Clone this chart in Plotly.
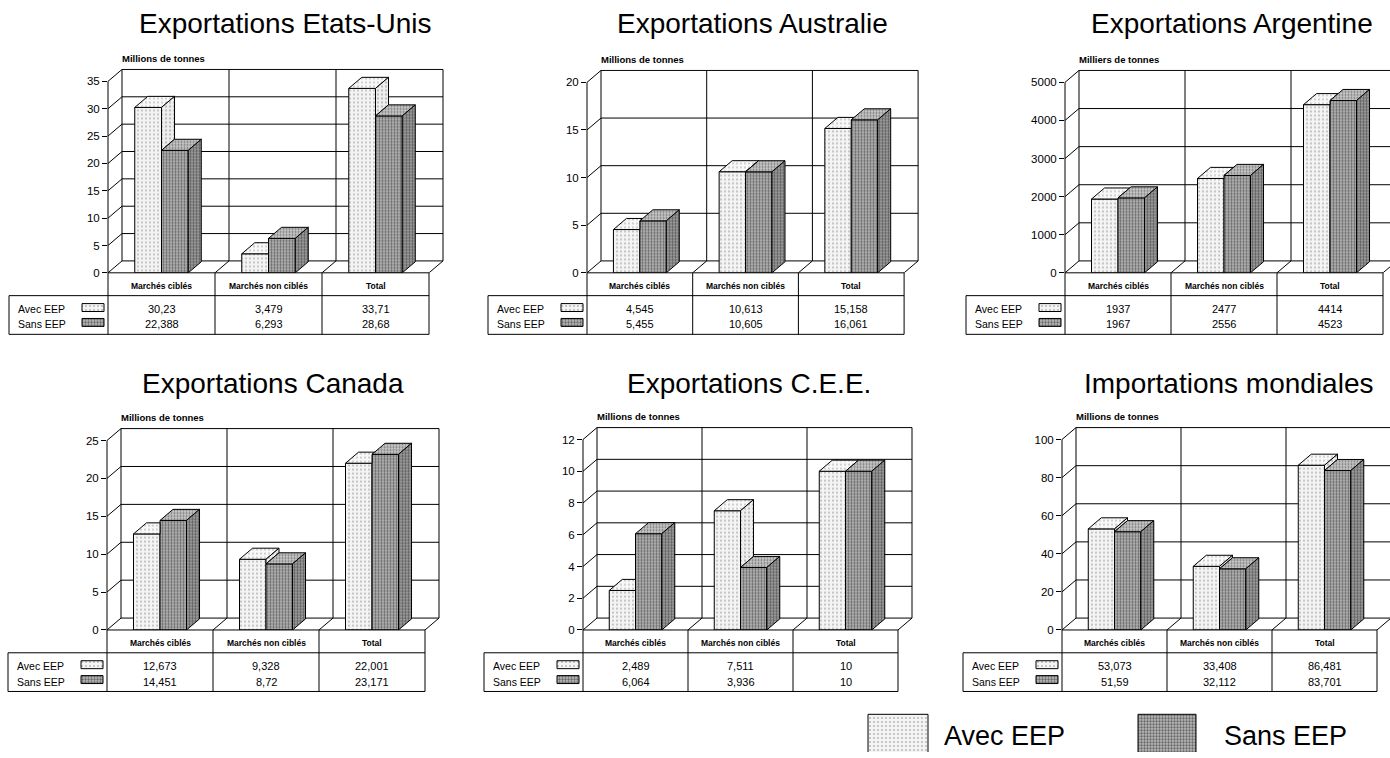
import plotly.graph_objects as go

W, H = 1390, 758
FONT = "Liberation Sans, Arial, Helvetica, sans-serif"

# ---- data -------------------------------------------------------------
categories = ["Marchés ciblés", "Marchés non ciblés", "Total"]
series = ["Avec EEP", "Sans EEP"]

titles = ["Exportations Etats-Unis", "Exportations Australie", "Exportations Argentine",
          "Exportations Canada", "Exportations C.E.E.", "Importations mondiales"]
units = ["Millions de tonnes", "Millions de tonnes", "Milliers de tonnes",
         "Millions de tonnes", "Millions de tonnes", "Millions de tonnes"]

avec_us = [30.23, 3.479, 33.71]
sans_us = [22.388, 6.293, 28.68]
avec_aus = [4.545, 10.613, 15.158]
sans_aus = [5.455, 10.605, 16.061]
avec_arg = [1937, 2477, 4414]
sans_arg = [1967, 2556, 4523]
avec_can = [12.673, 9.328, 22.001]
sans_can = [14.451, 8.72, 23.171]
avec_cee = [2.489, 7.511, 10]
sans_cee = [6.064, 3.936, 10]
avec_imp = [53.073, 33.408, 86.481]
sans_imp = [51.59, 32.112, 83.701]

avec_values = [avec_us, avec_aus, avec_arg, avec_can, avec_cee, avec_imp]
sans_values = [sans_us, sans_aus, sans_arg, sans_can, sans_cee, sans_imp]

y_max = [35, 20, 5000, 25, 12, 100]
y_step = [5, 5, 1000, 5, 2, 20]

# ---- layout of the six panels (pixels) --------------------------------
# x0: front-left edge, cw: column width, base: y of 0, top: y of last tick
frames = [
    dict(x0=108, cw=107.0, base=275, top=82, tx=285, ty=24),
    dict(x0=587, cw=105.7, base=275, top=83, tx=752, ty=24),
    dict(x0=1065, cw=106.0, base=275, top=83, tx=1232, ty=24),
    dict(x0=107, cw=106.0, base=635, top=444, tx=273, ty=387),
    dict(x0=583, cw=105.0, base=635, top=443, tx=749, ty=387),
    dict(x0=1062, cw=105.0, base=635, top=443, tx=1228, ty=387),
]
DEPTH_X, DEPTH_Y = 14, 12      # oblique depth of the floor / back wall
BAR_DEPTH = 0.93               # bar depth relative to the floor depth
BAR_W = 0.25                   # bar width in category units

AVEC_FRONT = dict(shape=".", bgcolor="#f4f4f4", fgcolor="#7a7a7a", size=4, solidity=0.2)
AVEC_TOP = dict(shape=".", bgcolor="#f8f8f8", fgcolor="#8a8a8a", size=4, solidity=0.18)
AVEC_SIDE = dict(shape=".", bgcolor="#eeeeee", fgcolor="#707070", size=4, solidity=0.22)
SANS_FRONT = dict(shape=".", bgcolor="#b8b8b8", fgcolor="#161616", size=3, solidity=0.45)
SANS_TOP = dict(shape=".", bgcolor="#cacaca", fgcolor="#262626", size=3, solidity=0.4)
SANS_SIDE = dict(shape=".", bgcolor="#aaaaaa", fgcolor="#0e0e0e", size=3, solidity=0.5)


def fr(v):
    return f"{v:g}".replace(".", ",")


def px(x):
    return x / W


def py(y):
    return 1 - y / H


def poly_xy(polys):
    xs, ys = [], []
    for p in polys:
        for (x, y) in list(p) + [p[0]]:
            xs.append(x)
            ys.append(y)
        xs.append(None)
        ys.append(None)
    return xs, ys


fig = go.Figure()
shapes, annotations, axes = [], [], {}
LINE = dict(color="black", width=1)


def pline(x1, y1, x2, y2):
    shapes.append(dict(type="line", xref="paper", yref="paper",
                       x0=px(x1), y0=py(y1), x1=px(x2), y1=py(y2), line=LINE))


def text(x, y, s, size, anchor="center", bold=False):
    annotations.append(dict(x=px(x), y=py(y), xref="paper", yref="paper",
                            text=f"<b>{s}</b>" if bold else s,
                            showarrow=False, xanchor=anchor, yanchor="middle",
                            font=dict(family=FONT, size=size, color="black")))


for i in range(6):
    k = i + 1
    sfx = "" if k == 1 else str(k)
    xref, yref = "x" + sfx, "y" + sfx
    f = frames[i]
    x0, cw, b0, bt = f["x0"], f["cw"], f["base"], f["top"]
    ymax, step = y_max[i], y_step[i]
    avec, sans = avec_values[i], sans_values[i]
    ncat = len(categories)

    ppu = (b0 - bt) / ymax
    ddx = DEPTH_X / cw
    ddy = DEPTH_Y / ppu
    right_px = min(W, x0 + ncat * cw + DEPTH_X + 1)
    top_px = bt - DEPTH_Y - 1
    ticks = list(range(0, ymax + 1, step))

    axes["xaxis" + sfx] = dict(domain=[px(x0), px(right_px)],
                               range=[-0.5, -0.5 + (right_px - x0) / cw],
                               visible=False, anchor=yref, fixedrange=True)
    axes["yaxis" + sfx] = dict(domain=[py(b0), py(top_px)], range=[0, (b0 - top_px) / ppu],
                               anchor=xref, tickvals=ticks, ticktext=[str(t) for t in ticks],
                               ticks="outside", ticklen=5, tickwidth=1, tickcolor="black",
                               showgrid=False, zeroline=False, showline=False, fixedrange=True,
                               tickfont=dict(family=FONT, size=11.5, color="black"))

    # back wall, floor and oblique tick connectors
    left, right = -0.5, ncat - 0.5
    for v in ticks:
        shapes.append(dict(type="line", xref=xref, yref=yref, layer="below",
                           x0=left, y0=v, x1=left + ddx, y1=v + ddy, line=LINE))
        shapes.append(dict(type="line", xref=xref, yref=yref, layer="below",
                           x0=left + ddx, y0=v + ddy, x1=right + ddx, y1=v + ddy, line=LINE))
    for c in range(ncat + 1):
        xb = left + c
        shapes.append(dict(type="line", xref=xref, yref=yref, layer="below",
                           x0=xb + ddx, y0=ddy, x1=xb + ddx, y1=ymax + ddy, line=LINE))
        if c > 0:
            shapes.append(dict(type="line", xref=xref, yref=yref, layer="below",
                               x0=xb, y0=0, x1=xb + ddx, y1=ddy, line=LINE))

    # front faces of the bars
    xs_cat = list(range(ncat))
    fig.add_trace(go.Bar(x=xs_cat, y=avec, width=BAR_W, offset=-BAR_W, name=series[0],
                         marker=dict(color=AVEC_FRONT["bgcolor"], pattern=AVEC_FRONT, line=LINE),
                         xaxis=xref, yaxis=yref, showlegend=False, hoverinfo="skip"))
    fig.add_trace(go.Bar(x=xs_cat, y=sans, width=BAR_W, offset=0, name=series[1],
                         marker=dict(color=SANS_FRONT["bgcolor"], pattern=SANS_FRONT, line=LINE),
                         xaxis=xref, yaxis=yref, showlegend=False, hoverinfo="skip"))

    # top and side faces, cut where the neighbouring bar hides them
    bx, by = ddx * BAR_DEPTH, ddy * BAR_DEPTH
    a_top, a_side, s_top, s_side = [], [], [], []
    for c, (a, s) in enumerate(zip(avec, sans)):
        xl, xm, xr = c - BAR_W, c, c + BAR_W
        if a >= s:
            a_top.append([(xl, a), (xm, a), (xm + bx, a + by), (xl + bx, a + by)])
            if a > s:
                a_side.append([(xm, s), (xm + bx, s + by), (xm + bx, a + by), (xm, a)])
        else:
            cut = max(0.0, a + by - s) * bx / by
            a_top.append([(xl, a), (xm, a), (xm, min(s, a + by)), (xm + cut, a + by),
                          (xl + bx, a + by)])
        s_top.append([(xm, s), (xr, s), (xr + bx, s + by), (xm + bx, s + by)])
        s_side.append([(xr, 0), (xr + bx, by), (xr + bx, s + by), (xr, s)])

    for polys, pat in [(a_top, AVEC_TOP), (a_side, AVEC_SIDE), (s_top, SANS_TOP), (s_side, SANS_SIDE)]:
        if not polys:
            continue
        xs, ys = poly_xy(polys)
        fig.add_trace(go.Scatter(x=xs, y=ys, mode="lines", fill="toself",
                                 fillcolor=pat["bgcolor"], fillpattern=pat, line=LINE,
                                 xaxis=xref, yaxis=yref, showlegend=False, hoverinfo="skip"))

    # front-left axis line
    pline(x0, b0, x0, bt)

    # data table below the floor
    xl_tab = x0 - 99
    xend = x0 + ncat * cw
    pline(x0, b0, xend, b0)
    pline(xl_tab, b0 + 23, xend, b0 + 23)
    pline(xl_tab, b0 + 62, xend, b0 + 62)
    pline(xl_tab, b0 + 23, xl_tab, b0 + 62)
    for c in range(ncat + 1):
        pline(x0 + c * cw, b0, x0 + c * cw, b0 + 62)
    for c, name in enumerate(categories):
        cx = x0 + (c + 0.5) * cw
        text(cx, b0 + 13, name, 8.5, bold=True)
        text(cx, b0 + 36, fr(avec[c]), 11)
        text(cx, b0 + 52, fr(sans[c]), 11)
    text(xl_tab + 7, b0 + 36, series[0], 10.5, "left")
    text(xl_tab + 7, b0 + 52, series[1], 10.5, "left")

    # titles and unit labels
    text(f["tx"], f["ty"], titles[i], 28)
    text(x0 + DEPTH_X - 2, bt - DEPTH_Y - 11, units[i], 9.5, "left", bold=True)

# ---- key swatches (table keys and bottom legend) on a pixel overlay ----
axes["xaxis7"] = dict(domain=[0, 1], range=[0, W], visible=False, anchor="y7", fixedrange=True)
axes["yaxis7"] = dict(domain=[0, 1], range=[H, 0], visible=False, anchor="x7", fixedrange=True)


def rect(x1, y1, x2, y2):
    return [(x1, y1), (x2, y1), (x2, y2), (x1, y2)]


avec_keys, sans_keys = [], []
for f in frames:
    avec_keys.append(rect(f["x0"] - 26, f["base"] + 31, f["x0"] - 4, f["base"] + 39))
    sans_keys.append(rect(f["x0"] - 26, f["base"] + 46, f["x0"] - 4, f["base"] + 54))
avec_keys.append(rect(868, 720, 928, 780))
sans_keys.append(rect(1138, 720, 1196, 780))
for polys, pat in [(avec_keys, AVEC_FRONT), (sans_keys, SANS_FRONT)]:
    xs, ys = poly_xy(polys)
    fig.add_trace(go.Scatter(x=xs, y=ys, mode="lines", fill="toself", fillcolor=pat["bgcolor"],
                             fillpattern=pat, line=LINE, xaxis="x7", yaxis="y7",
                             showlegend=False, hoverinfo="skip"))
text(942, 742, series[0], 27, "left")
text(1222, 742, series[1], 27, "left")

fig.update_layout(width=W, height=H, margin=dict(l=0, r=0, t=0, b=0),
                  paper_bgcolor="white", plot_bgcolor="rgba(0,0,0,0)",
                  barmode="overlay", showlegend=False, shapes=shapes,
                  annotations=annotations, font=dict(family=FONT, color="black"), **axes)

fig.write_html("out.html")
